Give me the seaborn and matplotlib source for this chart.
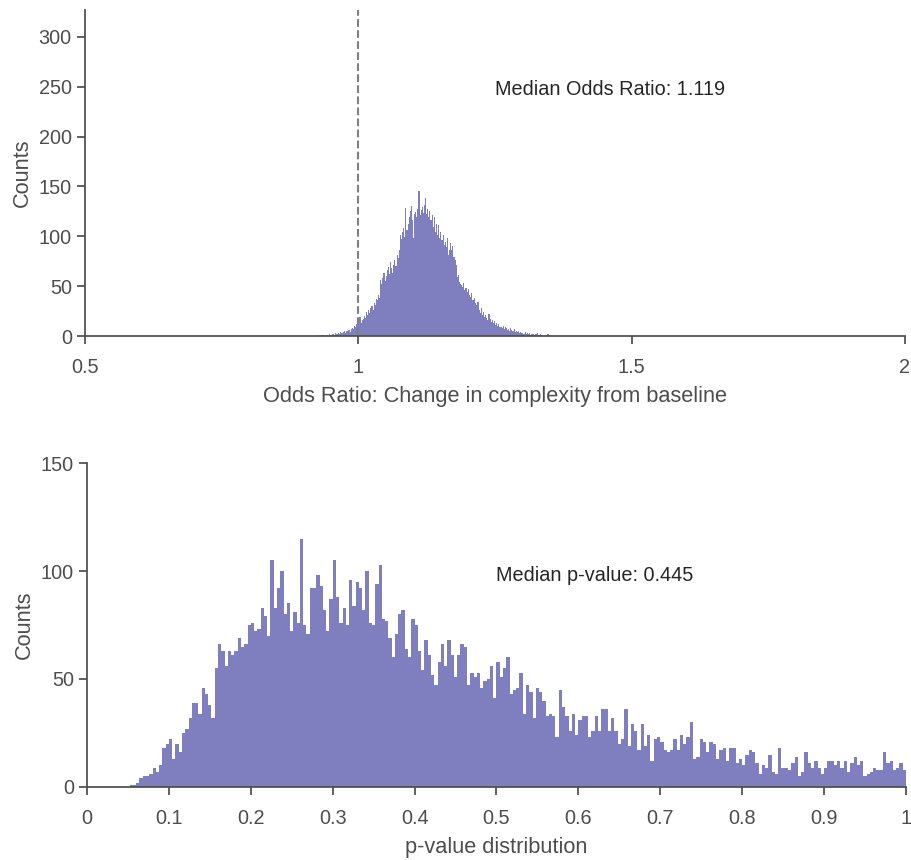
import numpy as np
import pandas as pd
import matplotlib
matplotlib.use("Agg")
import matplotlib.pyplot as plt
from matplotlib.ticker import FormatStrFormatter
import seaborn as sns

# Odds-ratio histogram: bins of width 0.002 starting at 0.920
or_bin_start = 0.920
or_bin_width = 0.002
or_counts = [
    0, 0, 1, 0, 0,
    1, 0, 1, 1, 0,
    1, 1, 0, 2, 1,
    1, 2, 2, 1, 3,
    2, 3, 2, 4, 3,
    3, 4, 5, 3, 5,
    5, 6, 4, 7, 8,
    7, 10, 9, 12, 11,
    14, 19, 13, 16, 17,
    20, 18, 24, 21, 26,
    23, 28, 30, 26, 33,
    31, 37, 36, 41, 38,
    56, 52, 58, 63, 55,
    60, 66, 69, 62, 74,
    68, 63, 71, 76, 70,
    81, 78, 86, 101, 97,
    104, 108, 99, 128, 106,
    112, 119, 125, 130, 116,
    98, 122, 124, 119, 127,
    145, 121, 126, 129, 123,
    131, 138, 122, 127, 119,
    125, 116, 121, 109, 119,
    104, 112, 101, 111, 98,
    104, 96, 101, 91, 94,
    89, 98, 81, 86, 93,
    86, 90, 79, 76, 71,
    59, 61, 54, 52, 51,
    49, 53, 46, 48, 44,
    47, 41, 39, 43, 36,
    36, 38, 33, 31, 34,
    26, 23, 28, 21, 24,
    19, 21, 18, 16, 22,
    17, 14, 16, 13, 15,
    11, 13, 10, 12, 9,
    9, 8, 10, 7, 9,
    8, 6, 7, 5, 8,
    6, 5, 7, 4, 5,
    4, 5, 3, 4, 3,
    3, 2, 4, 2, 3,
    2, 3, 1, 2, 2,
    2, 1, 2, 3, 1,
    1, 2, 1, 1, 0,
    1, 0, 1, 2, 0,
    0, 1, 0, 0, 0,
]

# p-value histogram: 250 bins of width 0.004 over [0, 1]
p_bin_width = 0.004
p_counts = [
    0, 0, 0, 0, 0, 0, 0, 0, 0, 0,
    0, 0, 0, 1, 1, 2, 4, 5, 5, 6,
    9, 7, 10, 18, 20, 22, 13, 20, 16, 25,
    27, 32, 39, 39, 34, 46, 43, 38, 32, 55,
    66, 63, 56, 63, 61, 63, 69, 65, 66, 75,
    76, 72, 73, 83, 79, 70, 105, 83, 92, 100,
    80, 85, 72, 81, 76, 115, 75, 71, 92, 92,
    98, 93, 82, 72, 87, 105, 88, 76, 83, 75,
    96, 84, 95, 92, 82, 100, 76, 75, 94, 103,
    78, 77, 69, 60, 71, 80, 82, 64, 60, 78,
    75, 63, 54, 68, 61, 52, 47, 58, 66, 56,
    68, 61, 51, 61, 66, 65, 47, 53, 51, 53,
    46, 49, 50, 56, 41, 58, 51, 55, 60, 43,
    45, 46, 53, 34, 47, 44, 32, 46, 44, 40,
    33, 34, 33, 23, 45, 37, 33, 26, 34, 24,
    31, 33, 33, 23, 26, 33, 26, 36, 36, 26,
    32, 26, 20, 22, 36, 19, 29, 26, 17, 29,
    19, 24, 12, 22, 23, 21, 17, 16, 17, 22,
    17, 24, 20, 23, 30, 13, 14, 22, 21, 16,
    21, 20, 13, 17, 18, 12, 18, 18, 11, 13,
    10, 15, 17, 16, 11, 6, 10, 9, 15, 7,
    6, 18, 9, 9, 8, 11, 14, 5, 7, 16,
    11, 9, 12, 9, 6, 9, 12, 12, 10, 12,
    9, 12, 7, 11, 14, 10, 12, 5, 6, 7,
    9, 8, 8, 16, 11, 12, 8, 9, 11, 8,
]

median_or = 1.119
median_p = 0.445
or_ticks = [0.5, 1, 1.5, 2]
p_ticks = [0, 0.1, 0.2, 0.3, 0.4, 0.5, 0.6, 0.7, 0.8, 0.9, 1]
or_yticks = [0, 50, 100, 150, 200, 250, 300]
p_yticks = [0, 50, 100, 150]

bar_color = "navy"

sns.set_theme(style="ticks")
plt.rcParams["font.family"] = ["Liberation Sans", "DejaVu Sans"]

or_edges = [or_bin_start + or_bin_width * k for k in range(len(or_counts) + 1)]
or_df = pd.DataFrame({"odds_ratio": [(a + b) / 2 for a, b in zip(or_edges[:-1], or_edges[1:])],
                      "n": or_counts})
p_edges = [p_bin_width * k for k in range(len(p_counts) + 1)]
p_df = pd.DataFrame({"p_value": [(a + b) / 2 for a, b in zip(p_edges[:-1], p_edges[1:])],
                     "n": p_counts})

fig = plt.figure(figsize=(9.12, 8.6), dpi=100)
ax1 = fig.add_axes([0.0932, 0.6093, 0.8991, 0.3791])
ax2 = fig.add_axes([0.0954, 0.0849, 0.8980, 0.3767])

label_size = 15.7
tick_size = 14.3
note_size = 14.3

# Odds ratio distribution
sns.histplot(data=or_df, x="odds_ratio", weights="n", bins=or_edges,
             element="step", color=bar_color, alpha=0.5, linewidth=0, ax=ax1)
ax1.axvline(1, color="gray", linestyle="--", linewidth=1.5)
ax1.set_xlim(0.5, 2)
ax1.set_ylim(0, 327)
ax1.set_xticks(or_ticks)
ax1.set_yticks(or_yticks)
ax1.xaxis.set_major_formatter(FormatStrFormatter("%g"))
ax1.set_xlabel("Odds Ratio: Change in complexity from baseline", fontsize=label_size,
               labelpad=6)
ax1.set_ylabel("Counts", fontsize=label_size)
ax1.text(1.25, 247, f"Median Odds Ratio: {median_or:.3f}", fontsize=note_size,
         ha="left", va="center", color=".15")

# p-value distribution
sns.histplot(data=p_df, x="p_value", weights="n", bins=p_edges,
             element="step", color=bar_color, alpha=0.5, linewidth=0, ax=ax2)
ax2.set_xlim(0, 1)
ax2.set_ylim(0, 150)
ax2.set_xticks(p_ticks)
ax2.set_yticks(p_yticks)
ax2.xaxis.set_major_formatter(FormatStrFormatter("%g"))
ax2.set_xlabel("p-value distribution", fontsize=label_size, labelpad=6)
ax2.set_ylabel("Counts", fontsize=label_size)
ax2.text(0.5, 98, f"Median p-value: {median_p:.3f}", fontsize=note_size,
         ha="left", va="center", color=".15")

for ax in (ax1, ax2):
    sns.despine(ax=ax)
    ax.tick_params(labelsize=tick_size, colors=".3", labelcolor=".3")
    ax.tick_params(axis="x", pad=10)
    ax.spines["left"].set_color(".3")
    ax.spines["bottom"].set_color(".3")
    ax.xaxis.label.set_color(".3")
    ax.yaxis.label.set_color(".3")

fig.savefig("out.png", dpi=100)
